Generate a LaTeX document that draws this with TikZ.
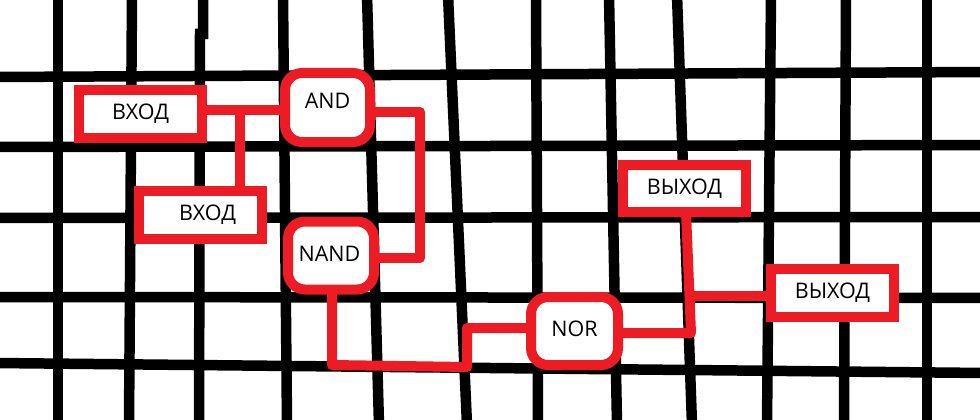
\documentclass[tikz,border=0pt]{standalone}
\usepackage{fontspec}
\setmainfont{Open Sans}
\definecolor{pred}{HTML}{ED1C24}
\newcommand{\up}[2]{\raisebox{#1}[\height][\depth]{#2}}
\begin{document}
\begin{tikzpicture}[x=1pt,y=-1pt,
  gridline/.style={line width=10.5pt, black},
  wire/.style={line width=10pt, draw=pred, line join=round},
  sqbox/.style={draw=pred, line width=10pt, fill=white, outer sep=0pt, inner sep=0pt,
    minimum width=123pt, minimum height=48pt, font=\fontsize{21.5}{26}\selectfont},
  gatebox/.style={sqbox, rounded corners=17pt, minimum width=86pt, minimum height=68pt}]
\useasboundingbox (0,0) rectangle (980,420);
\clip (0,0) rectangle (980,420);
% grid
\foreach \a/\b in {58/58,132/129,283/287,367/379,448/467,536/538,609/617,677/692,771/767,846/844,927/927}
  \draw[gridline] (\a,-5) -- (\b,425);
\draw[gridline] (203,-5) -- (203,34) -- (200,34) -- (199,425);
\foreach \a/\b in {77/72,147/145,218/217,297/298,363/373}
  \draw[gridline] (-5,\a) -- (985,\b);
% connector bend points
\coordinate (j1) at (240,110);
\coordinate (c1) at (420,112);
\coordinate (c2) at (420,258);
\coordinate (c3) at (332,365);
\coordinate (c4) at (467,367);
\coordinate (c5) at (467,328);
\coordinate (c6) at (691,333);
\coordinate (c7) at (686,200);
\coordinate (c8) at (689,296);
% nodes
\node[sqbox] (in1) at (140.5,114) {ВХОД};
\node[sqbox] (in2) at (200.5,214.5) {\hspace{14pt}ВХОД};
\node[gatebox, minimum width=85pt, minimum height=69pt] (and) at (327.5,107.5) {\up{6.5pt}{AND}};
\node[gatebox] (nand) at (331,255.5) {\up{2pt}{\kern-3pt NAND}};
\node[gatebox, minimum width=87pt] (nor) at (574.5,331) {\up{2.5pt}{NOR}};
\node[sqbox, minimum height=47pt] (out1) at (684.5,188.5) {ВЫХОД};
\node[sqbox] (out2) at (832.5,293) {ВЫХОД};
% connectors
\draw[wire] (in1.east |- j1) -- (j1) -- (and.west |- j1);
\draw[wire] (j1) -- (in2.north -| j1);
\draw[wire] (and.east |- c1) -- (c1) -- (c2) -- (nand.east |- c2);
\draw[wire] (nand.south -| c3) -- (c3) -- (c4) -- (c5) -- (nor.west |- c5);
\draw[wire] (nor.east |- c6) -- (c6) -- (out1.south -| c7);
\draw[wire] (c8) -- (out2.west |- c8);
\end{tikzpicture}
\end{document}
